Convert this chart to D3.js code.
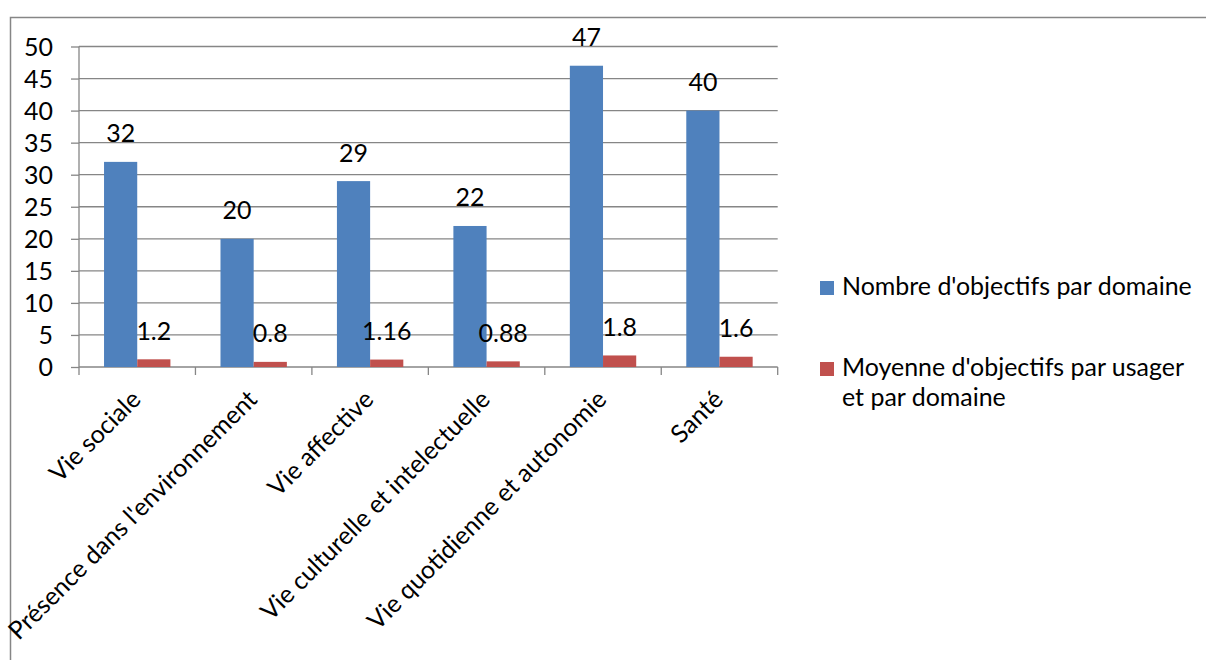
<!DOCTYPE html>
<html><head><meta charset="utf-8">
<script src="https://cdn.jsdelivr.net/npm/d3@7"></script>
<style>body{margin:0;background:#fff}svg{display:block}</style>
</head><body>
<svg id="chart" width="1206" height="660"></svg>
<script>
const categories = ["Vie sociale","Présence dans l'environnement","Vie affective","Vie culturelle et intelectuelle","Vie quotidienne et autonomie","Santé"];
const seriesNames = ["Nombre d'objectifs par domaine","Moyenne d'objectifs par usager et par domaine"];
const nombre = [32,20,29,22,47,40];
const moyenne = [1.2,0.8,1.16,0.88,1.8,1.6];
const valueLabelsNombre = ["32","20","29","22","47","40"];
const valueLabelsMoyenne = ["1.2","0.8","1.16","0.88","1.8","1.6"];
const yTicks = [0,5,10,15,20,25,30,35,40,45,50];
const colors = ["#4F81BD","#C0504D"];

(function(){
const svg = d3.select("#chart");
const FONT = "Lato, 'Open Sans', sans-serif";

// fit font size so legend text width matches the reference (~350px)
const probe = svg.append("text").attr("font-family",FONT).attr("font-size",100).text(seriesNames[0]);
const w100 = probe.node().getComputedTextLength();
probe.remove();
const fs = Math.max(14, Math.min(26, 350/w100*100));

const pL = 79, pR = 777.7, pT = 46.5, pB = 367;
const x = d3.scaleBand().domain(categories).range([pL,pR]).paddingInner(0.43).paddingOuter(0.215);
const xs = d3.scaleBand().domain([0,1]).range([0,x.bandwidth()]);
const y = d3.scaleLinear().domain([0,50]).range([pB,pT]);

// outer border
svg.append("path").attr("d",`M10.5,700 V17.5 H1230`).attr("fill","none").attr("stroke","#868686").attr("stroke-width",1.5);

// gridlines
svg.append("g").selectAll("line").data(yTicks.filter(d=>d>0)).join("line")
  .attr("x1",pL).attr("x2",pR).attr("y1",d=>y(d)).attr("y2",d=>y(d))
  .attr("stroke","#868686").attr("stroke-width",1.3);

// y axis
const yAxis = svg.append("g").attr("transform",`translate(${pL},0)`)
  .call(d3.axisLeft(y).tickValues(yTicks).tickSize(8).tickPadding(18).tickFormat(d3.format("d")));
yAxis.select(".domain").attr("stroke","#868686").attr("stroke-width",1.3).attr("d",`M0,${pT}V${pB}`);
yAxis.selectAll(".tick line").attr("stroke","#868686").attr("stroke-width",1.3);
yAxis.selectAll(".tick text").attr("font-family",FONT).attr("font-size",fs).attr("fill","#000").attr("dy","0.35em");

// x axis
const xAxisG = svg.append("g");
xAxisG.append("line").attr("x1",pL).attr("x2",pR).attr("y1",pB).attr("y2",pB).attr("stroke","#868686").attr("stroke-width",1.3);
const boundaries = d3.range(categories.length+1).map(i=>pL + i*(pR-pL)/categories.length);
xAxisG.selectAll("line.tk").data(boundaries).join("line").attr("class","tk")
  .attr("x1",d=>d).attr("x2",d=>d).attr("y1",pB).attr("y2",pB+8).attr("stroke","#868686").attr("stroke-width",1.3);
xAxisG.selectAll("text").data(categories).join("text")
  .attr("transform",d=>`translate(${x(d)+x.bandwidth()/2+5},${pB+34}) rotate(-45)`)
  .attr("text-anchor","end").attr("font-family",FONT).attr("font-size",fs).attr("fill","#000").text(d=>d);

// bars
const data = categories.map((c,i)=>({c, vals:[nombre[i],moyenne[i]], labs:[valueLabelsNombre[i],valueLabelsMoyenne[i]]}));
const g = svg.append("g").selectAll("g").data(data).join("g").attr("transform",d=>`translate(${x(d.c)},0)`);
g.selectAll("rect").data(d=>d.vals.map((v,k)=>({v,k}))).join("rect")
  .attr("x",d=>xs(d.k)).attr("width",xs.bandwidth()).attr("y",d=>y(d.v)).attr("height",d=>pB-y(d.v))
  .attr("fill",d=>colors[d.k]);
g.selectAll("text").data(d=>d.vals.map((v,k)=>({v,k,l:d.labs[k]}))).join("text")
  .attr("x",d=>xs(d.k)+xs.bandwidth()/2).attr("y",d=>y(d.v)-19.5)
  .attr("text-anchor","middle").attr("font-family",FONT).attr("font-size",fs).attr("fill","#000").text(d=>d.l);

// legend
const leg = svg.append("g");
const legY = [288, 369];
leg.selectAll("rect").data(colors).join("rect")
  .attr("x",820).attr("y",(d,i)=>legY[i]-7).attr("width",14).attr("height",14).attr("fill",d=>d);
leg.append("text").attr("x",842).attr("y",295).attr("font-family",FONT).attr("font-size",fs).attr("fill","#000").text(seriesNames[0]);
const t2 = leg.append("text").attr("font-family",FONT).attr("font-size",fs).attr("fill","#000");
t2.append("tspan").attr("x",842).attr("y",376).text("Moyenne d'objectifs par usager");
t2.append("tspan").attr("x",842).attr("y",406).text("et par domaine");
})();
</script>
</body></html>
